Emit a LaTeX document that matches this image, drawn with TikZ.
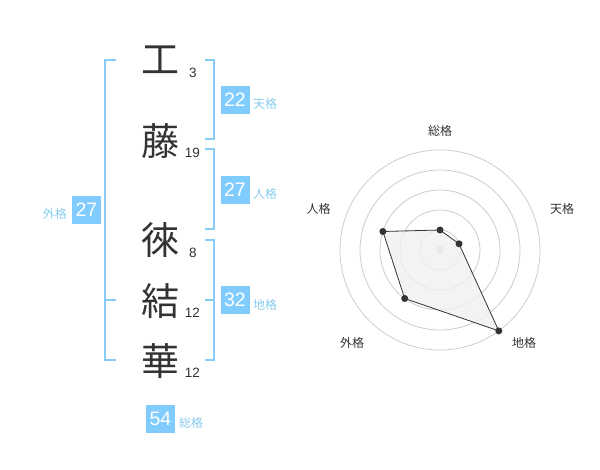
\documentclass[tikz,border=0pt]{standalone}
\usepackage{fontspec}
\setmainfont{Liberation Sans}
\newfontfamily\jp{Noto Sans CJK JP}
\definecolor{brk}{HTML}{88CCF8}
\definecolor{boxc}{HTML}{80CCFF}
\definecolor{lbl}{HTML}{88CCEE}
\definecolor{ink}{HTML}{333333}
\definecolor{ring}{HTML}{CCCCCC}
\definecolor{fillc}{HTML}{F0F0F0}
\begin{document}
\begin{tikzpicture}[x=1pt,y=-1pt,
  kanji/.style={inner sep=0pt,text=ink,font=\jp\fontsize{38}{38}\selectfont},
  strokes/.style={inner sep=0pt,text=ink,font=\fontsize{13.5}{13.5}\selectfont},
  numbox/.style={fill=boxc,text=white,minimum width=29pt,minimum height=28pt,inner sep=0pt,font=\fontsize{19.5}{19.5}\selectfont},
  kaku/.style={inner sep=0pt,text=lbl,font=\jp\fontsize{12}{12}\selectfont,anchor=west},
  bracket/.style={draw=brk,line width=2pt},
  axislbl/.style={inner sep=0pt,text=ink,font=\jp\fontsize{12}{12}\selectfont},
  ringc/.style={draw=ring,line width=0.8pt},
  dotc/.style={circle,fill=ink,inner sep=0pt,minimum size=7pt}]
\useasboundingbox (0,0) rectangle (600,470);
% kanji
\node[kanji] (k1) at (160,60) {工};
\node[kanji] (k2) at (160,141) {藤};
\node[kanji] (k3) at (160,240) {徠};
\node[kanji] (k4) at (160,301) {結};
\node[kanji] (k5) at (160,361) {華};
\node[strokes] (s1) at (193,73) {3};
\node[strokes] (s2) at (192.5,153) {19};
\node[strokes] (s3) at (193,253) {8};
\node[strokes] (s4) at (192.5,313) {12};
\node[strokes] (s5) at (192.5,373) {12};
% brackets
\coordinate (lt) at (116,60); \coordinate (lb) at (116,360);
\draw[bracket] (lt) -- (105,60) -- (105,360) -- (lb);
\draw[bracket] (105,300) -- (116,300);
\draw[bracket] (205,60) -- (214,60) -- (214,139) -- (205,139);
\draw[bracket] (205,149) -- (214,149) -- (214,229) -- (205,229);
\draw[bracket] (205,240) -- (214,240) -- (214,360) -- (205,360);
\draw[bracket] (205,300) -- (214,300);
% boxes
\node[numbox] (ten) at (235,100) {22};
\node[kaku] at (253,104) {天格};
\node[numbox] (jin) at (235,190) {27};
\node[kaku] at (253,194) {人格};
\node[numbox] (chi) at (235,300) {32};
\node[kaku] at (253,305) {地格};
\node[numbox] (gai) at (86.5,210) {27};
\node[kaku,anchor=east] at (67,214) {外格};
\node[numbox] (sou) at (160.5,419) {54};
\node[kaku] at (179,423) {総格};
% radar
\coordinate (c) at (440,250);
\foreach \r in {20,40,60,80,100} \draw[ringc] (c) circle[radius=\r];
\fill[ring] (c) circle[radius=4];
\coordinate (p1) at (440,230);
\coordinate (p2) at (459.0,243.8);
\coordinate (p3) at (498.8,330.9);
\coordinate (p4) at (404.7,298.5);
\coordinate (p5) at (382.9,231.5);
\draw[ink,line width=0.8pt,fill=fillc,fill opacity=0.8] (p1) -- (p2) -- (p3) -- (p4) -- (p5) -- cycle;
\foreach \p in {p1,p2,p3,p4,p5} \node[dotc] at (\p) {};
\node[axislbl] (a1) at (440,131) {総格};
\node[axislbl] (a2) at (562,209) {天格};
\node[axislbl] (a3) at (524,342.5) {地格};
\node[axislbl] (a4) at (352,342.5) {外格};
\node[axislbl] (a5) at (318.5,209) {人格};
\end{tikzpicture}
\end{document}
